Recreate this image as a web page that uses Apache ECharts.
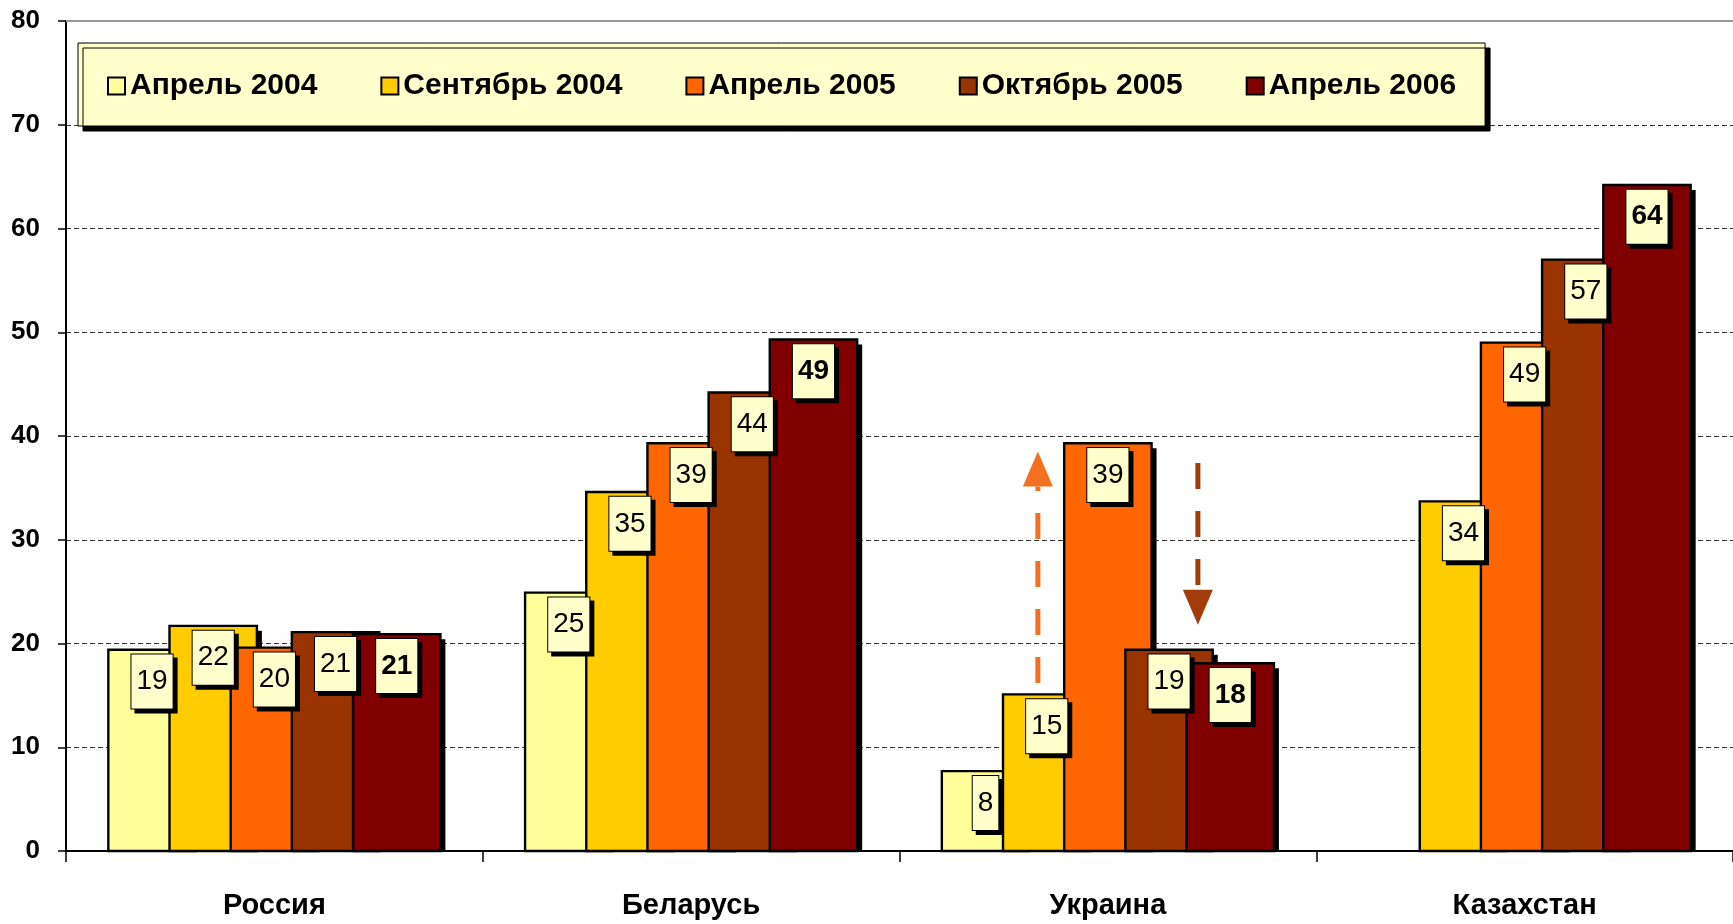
<!DOCTYPE html>
<html><head><meta charset="utf-8">
<script src="https://cdn.jsdelivr.net/npm/echarts@6/dist/echarts.min.js"></script>
<style>html,body{margin:0;padding:0;background:#fff}#c{width:1733px;height:924px}</style>
</head><body><div id="c"></div>
<script>
// ---- data ----
const categories = ['Россия', 'Беларусь', 'Украина', 'Казахстан'];
const seriesNames = ['Апрель 2004', 'Сентябрь 2004', 'Апрель 2005', 'Октябрь 2005', 'Апрель 2006'];
const apr2004 = [19.4, 24.9, 7.7, null];
const sep2004 = [21.7, 34.6, 15.1, 33.7];
const apr2005 = [19.6, 39.3, 39.3, 49.0];
const oct2005 = [21.1, 44.2, 19.4, 57.0];
const apr2006 = [20.9, 49.3, 18.1, 64.2];
const yMin = 0, yMax = 80, yStep = 10;
// annotation arrows on Ukraine (value at start -> value at tip)
const arrowUp = [16.2, 38.5];
const arrowDown = [37.4, 21.8];

// ---- styles ----
const colors = ['#FFFF99', '#FFCC00', '#FF6600', '#993300', '#800000'];
const FONT = '"Liberation Sans", Arial, sans-serif';
const values = [apr2004, sep2004, apr2005, oct2005, apr2006];
const BAR_FRAC = 0.2097;   // bar width as share of category band
const STEP_FRAC = 0.70;    // offset between neighbouring bars, share of bar width (bars overlap)
const SHADOW = 5;

const chart = echarts.init(document.getElementById('c'), null, {renderer: 'canvas'});
const N = values.length;

function makeSeries(s) {
  return {
    type: 'custom',
    name: seriesNames[s],
    data: values[s].map((v, i) => [i, v]),
    encode: {x: 0, y: 1},
    itemStyle: {color: colors[s], borderColor: '#000', borderWidth: 2},
    emphasis: {disabled: true},
    silent: true,
    renderItem: (params, api) => {
      const v = api.value(1);
      if (v == null || isNaN(v)) return null;
      const ci = api.value(0);
      const top = api.coord([ci, v]);
      const base = api.coord([ci, 0]);
      const band = api.size([1, 0])[0];
      const bw = band * BAR_FRAC;
      const step = bw * STEP_FRAC;
      const total = step * (N - 1) + bw;
      const x = top[0] - total / 2 + s * step;
      const y = top[1], h = base[1] - top[1];
      return {
        type: 'group',
        children: [
          {type: 'rect', shape: {x: x + SHADOW, y: y + SHADOW, width: bw, height: Math.max(0, h - SHADOW)},
           style: {fill: '#000'}},
          {type: 'rect', shape: {x: x, y: y, width: bw, height: h},
           style: {fill: colors[s], stroke: '#000', lineWidth: 2.4},
           textContent: {
             style: {
               text: String(Math.round(v)),
               fontFamily: FONT, fontSize: 28, fontWeight: s === N - 1 ? 'bold' : 'normal',
               fill: '#000', lineHeight: 30,
               backgroundColor: '#FFFFCC', borderColor: '#000', borderWidth: 1,
               padding: [12, 5],
               shadowColor: '#000', shadowOffsetX: 4, shadowOffsetY: 4, shadowBlur: 0
             }
           },
           textConfig: {position: 'insideTop', distance: 6}
          }
        ]
      };
    },
    markLine: s === 0 ? {
      silent: true, symbol: 'none', animation: false,
      label: {show: false},
      lineStyle: {color: '#999', type: 'solid', width: 2},
      data: [{yAxis: yMax}]
    } : undefined
  };
}

chart.setOption({
  animation: false,
  backgroundColor: '#fff',
  grid: {left: 66, right: -11, top: 21, bottom: 73, containLabel: false},
  legend: {
    data: seriesNames,
    left: 78, top: 43,
    orient: 'horizontal',
    padding: [28, 29, 25, 29],
    itemGap: 63,
    itemWidth: 17, itemHeight: 17,
    icon: 'rect',
    backgroundColor: '#FFFFCC', borderColor: '#000', borderWidth: 1,
    shadowColor: '#000', shadowOffsetX: 5, shadowOffsetY: 5, shadowBlur: 0,
    itemStyle: {borderColor: '#000', borderWidth: 2, shadowColor: 'transparent', shadowOffsetX: 0, shadowOffsetY: 0},
    textStyle: {fontFamily: FONT, fontSize: 30, fontWeight: 'bold', color: '#000'},
    selectedMode: false
  },
  xAxis: {
    type: 'category', data: categories,
    axisLine: {show: true, lineStyle: {color: '#000', width: 2}},
    axisTick: {show: true, length: 11, lineStyle: {color: '#000', width: 1.5}},
    axisLabel: {fontFamily: FONT, fontSize: 29, fontWeight: 'bold', color: '#000', margin: 40},
    splitLine: {show: false}
  },
  yAxis: {
    type: 'value', min: yMin, max: yMax, interval: yStep,
    axisLine: {show: true, lineStyle: {color: '#000', width: 2}},
    axisTick: {show: true, length: 8, lineStyle: {color: '#000', width: 1.5}},
    axisLabel: {fontFamily: FONT, fontSize: 26, fontWeight: 'bold', color: '#000', margin: 26},
    splitLine: {show: true, lineStyle: {color: '#333', width: 1, type: [5, 3]}}
  },
  series: values.map((_, s) => makeSeries(s))
});

// annotation arrows, positioned through the chart's own scales
function arrow(xPix, from, to, color) {
  const y0 = chart.convertToPixel({yAxisIndex: 0}, from);
  const y1 = chart.convertToPixel({yAxisIndex: 0}, to);
  const dir = y1 < y0 ? -1 : 1;
  const head = 35, half = 15;
  const base = y1 - dir * head;
  return [
    {type: 'line', silent: true, z: 100,
     shape: {x1: xPix, y1: y0, x2: xPix, y2: base},
     style: {stroke: color, lineWidth: 5, lineDash: [26, 22]}},
    {type: 'polygon', silent: true, z: 100,
     shape: {points: [[xPix - half, base], [xPix + half, base], [xPix, y1]]},
     style: {fill: color}}
  ];
}
const ukrX = chart.convertToPixel({xAxisIndex: 0}, 'Украина');
chart.setOption({
  graphic: [].concat(
    arrow(ukrX - 70, arrowUp[0], arrowUp[1], '#F47021'),
    arrow(ukrX + 90, arrowDown[0], arrowDown[1], '#A33C0B')
  )
});
</script>
</body></html>
